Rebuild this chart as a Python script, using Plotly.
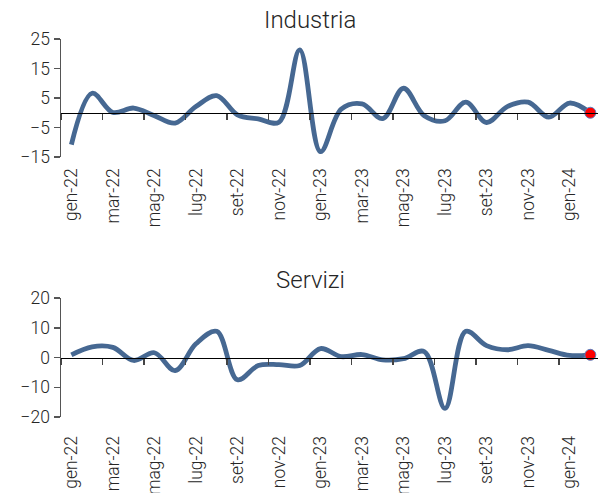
import plotly.graph_objects as go

months = ["gen", "feb", "mar", "apr", "mag", "giu", "lug", "ago", "set", "ott", "nov", "dic"]
categories = [f"{m}-{y}" for y in ("22", "23") for m in months] + ["gen-24", "feb-24"]

industria = [-10.8, 6.6, 0.1, 1.6, -1.0, -3.5, 2.1, 5.8, -0.7, -2.1, -3.2, 21.3, -13.2,
             1.2, 3.0, -2.0, 8.3, -1.0, -2.7, 3.6, -3.3, 2.1, 3.6, -1.5, 3.3, 0.0]
servizi = [0.9, 3.6, 3.4, -1.0, 1.6, -4.4, 4.6, 8.8, -7.5, -2.7, -2.4, -2.7, 3.0,
           0.3, 1.0, -0.8, -0.4, 2.0, -17.1, 8.8, 4.0, 2.6, 4.0, 2.4, 0.7, 0.9]

titles = ["Industria", "Servizi"]
y_ranges = [[-15, 25], [-20, 20]]
y_tick0 = [-15, -20]

W, H = 598, 493
LINE = "#466892"
TXT = "#262626"
FONT = dict(family="Roboto", size=17.5, color=TXT, weight=300)

# pixel layout
left = 61
domains_px = [(39, 157), (298, 417)]
title_px = [(310, 20), (310, 280)]

fig = go.Figure()
layout = dict(
    width=W, height=H,
    margin=dict(l=left, r=0, t=0, b=0),
    paper_bgcolor="white", plot_bgcolor="white",
    showlegend=False,
    font=FONT,
    annotations=[],
)

for k, (vals, title) in enumerate(zip([industria, servizi], titles)):
    xa = "x" if k == 0 else f"x{k+1}"
    ya = "y" if k == 0 else f"y{k+1}"
    fig.add_trace(go.Scatter(
        x=categories, y=vals, xaxis=xa, yaxis=ya, mode="lines",
        line=dict(color=LINE, width=4.8, shape="spline", smoothing=1.0),
        hoverinfo="skip"))
    fig.add_trace(go.Scatter(
        x=[categories[-1]], y=[vals[-1]], xaxis=xa, yaxis=ya, mode="markers",
        marker=dict(color="red", size=11, line=dict(color="#5b7fc0", width=1)),
        hoverinfo="skip", cliponaxis=False))

    top_px, bot_px = domains_px[k]
    d0 = 1 - bot_px / H
    d1 = 1 - top_px / H
    r0, r1 = y_ranges[k]
    zero_pos = d0 + (0 - r0) / (r1 - r0) * (d1 - d0)
    xname = "xaxis" if k == 0 else f"xaxis{k+1}"
    yname = "yaxis" if k == 0 else f"yaxis{k+1}"
    layout[xname] = dict(
        type="category", domain=[0, 1], anchor="free", position=zero_pos,
        range=[-0.5, 25.37], dtick=2, tickson="boundaries",
        ticks="outside", ticklen=6, tickwidth=1.5, tickcolor="#444",
        showline=True, linecolor="black", linewidth=1.5,
        showgrid=False, zeroline=False,
        tickangle=-90, tickfont=FONT,
        ticklabelstandoff=47 if k == 0 else 70,
        automargin=False, fixedrange=True,
    )
    layout[yname] = dict(
        domain=[d0, d1], anchor=xa, range=y_ranges[k],
        tick0=y_tick0[k], dtick=10,
        ticks="outside", ticklen=6, tickwidth=1.5, tickcolor="#555",
        showline=True, linecolor="#555", linewidth=1.5,
        showgrid=False, zeroline=False, tickfont=FONT,
        automargin=False, fixedrange=True,
    )
    tx, ty = title_px[k]
    layout["annotations"].append(dict(
        text=title, xref="paper", yref="paper",
        x=(tx - left) / (W - left), y=1 - ty / H,
        xanchor="center", yanchor="middle", showarrow=False,
        font=dict(family="Roboto", size=24, color=TXT, weight=300)))

fig.update_layout(**layout)
fig.write_html("out.html", config={"displayModeBar": False, "staticPlot": True},
               post_script="document.body.style.margin='0';document.body.style.overflow='hidden';")
